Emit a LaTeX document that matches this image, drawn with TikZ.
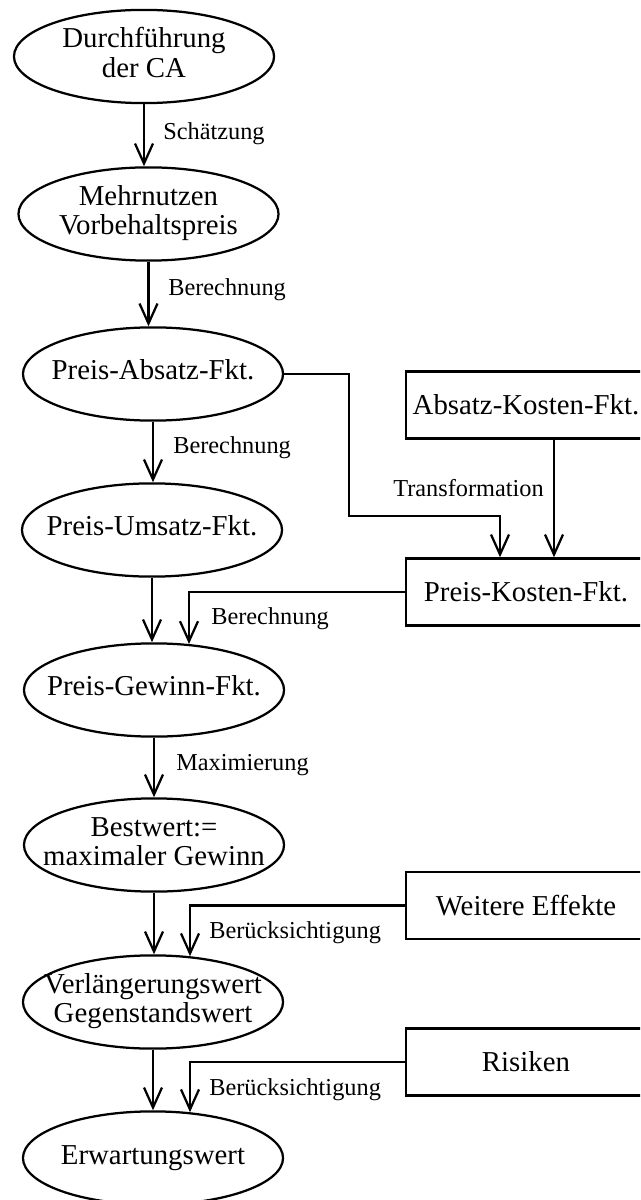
\documentclass[tikz,border=0pt]{standalone}
\usepackage{fontspec}
\setmainfont{Liberation Serif}
\usetikzlibrary{calc,arrows.meta,shapes.geometric,math}

\newcommand{\slim}[1]{\makebox[0pt]{\begin{tabular}{@{}c@{}}#1\end{tabular}}}

\tikzset{
  stage/.style={draw, ellipse, line width=1.6pt, minimum width=6.5cm, minimum height=2.33cm,
    inner sep=0pt, font=\fontsize{20.5}{21.3}\selectfont},
  source/.style={draw, rectangle, line width=1.6pt, minimum width=6cm, minimum height=1.68cm,
    inner sep=0pt, font=\fontsize{20.5}{21.3}\selectfont},
  flow/.style={line width=1.6pt, -{Straight Barb[length=0.5cm,width=0.45cm]}},
  lab/.style={anchor=west, inner sep=0pt, font=\fontsize{17.3}{18}\selectfont}
}

\begin{document}
\begin{tikzpicture}[x=0.025cm, y=-0.025cm]
    \tikzmath{ \xl=153; \xr=526; }
    \useasboundingbox (0,0) rectangle (640,1200);
    \clip (0,0) rectangle (640,1200);
    \node[stage] (DCA) at (144,56.5) {\slim{Durchführung\\der CA}};
    \node[stage] (MV) at (148.5,214) {\slim{Mehrnutzen\\Vorbehaltspreis}};
    \node[stage] (PAF) at (\xl,374) {\slim{Preis-Absatz-Fkt.}};
    \node[stage] (PUF) at (\xl-1,530) {\slim{Preis-Umsatz-Fkt.}};
    \node[stage] (PGF) at (\xl+1,690) {\slim{Preis-Gewinn-Fkt.}};
    \node[stage] (BW) at (\xl+1,845) {\slim{Bestwert:=\\maximaler Gewinn}};
    \node[stage] (VW) at (\xl,1002) {\slim{Verlängerungswert\\Gegenstandswert}};
    \node[stage] (EW) at (\xl,1158) {\slim{Erwartungswert}};
    \node[source] (AKF) at (\xr,405) {Absatz-Kosten-Fkt.};
    \node[source] (PKF) at (\xr,592) {Preis-Kosten-Fkt.};
    \node[source] (WE) at (\xr,905.5) {Weitere Effekte};
    \node[source] (RI) at (\xr,1062) {Risiken};
    \coordinate (bend) at (349,516);
    \draw[flow] (DCA.south) -- (DCA.south |- MV.north);
    \draw[flow] (MV.south) -- (MV.south |- PAF.north);
    \draw[flow] (PAF.south) -- (PAF.south |- PUF.north);
    \draw[flow] (PUF.south) -- (PUF.south |- PGF.north);
    \draw[flow] (PGF.south) -- (PGF.south |- BW.north);
    \draw[flow] (BW.south) -- (BW.south |- VW.north);
    \draw[flow] (VW.south) -- (VW.south |- EW.north);
    \draw[flow] (PAF.east) -| (bend) -| ($(PKF.north)+(-26,0)$);
    \draw[flow] ($(AKF.south)+(28,0)$) -- ($(PKF.north)+(28,0)$);
    \draw[flow] (PKF.west) -| ($(PGF.north)+(35,1.7)$);
    \draw[flow] (WE.west) -| ($(VW.north)+(37,1.9)$);
    \draw[flow] (RI.west) -| ($(EW.north)+(37,1.9)$);
    \node[lab] (l1) at (163,134) {Schätzung};
    \node[lab] (l2) at (168,290) {Berechnung};
    \node[lab] (l3) at (173,448) {Berechnung};
    \node[lab] (l4) at (393,488) {Transformation};
    \node[lab] (l5) at (211,619) {Berechnung};
    \node[lab] (l6) at (176,765) {Maximierung};
    \node[lab] (l7) at (209,933) {Berücksichtigung};
    \node[lab] (l8) at (209,1090) {Berücksichtigung};
\end{tikzpicture}
\end{document}
